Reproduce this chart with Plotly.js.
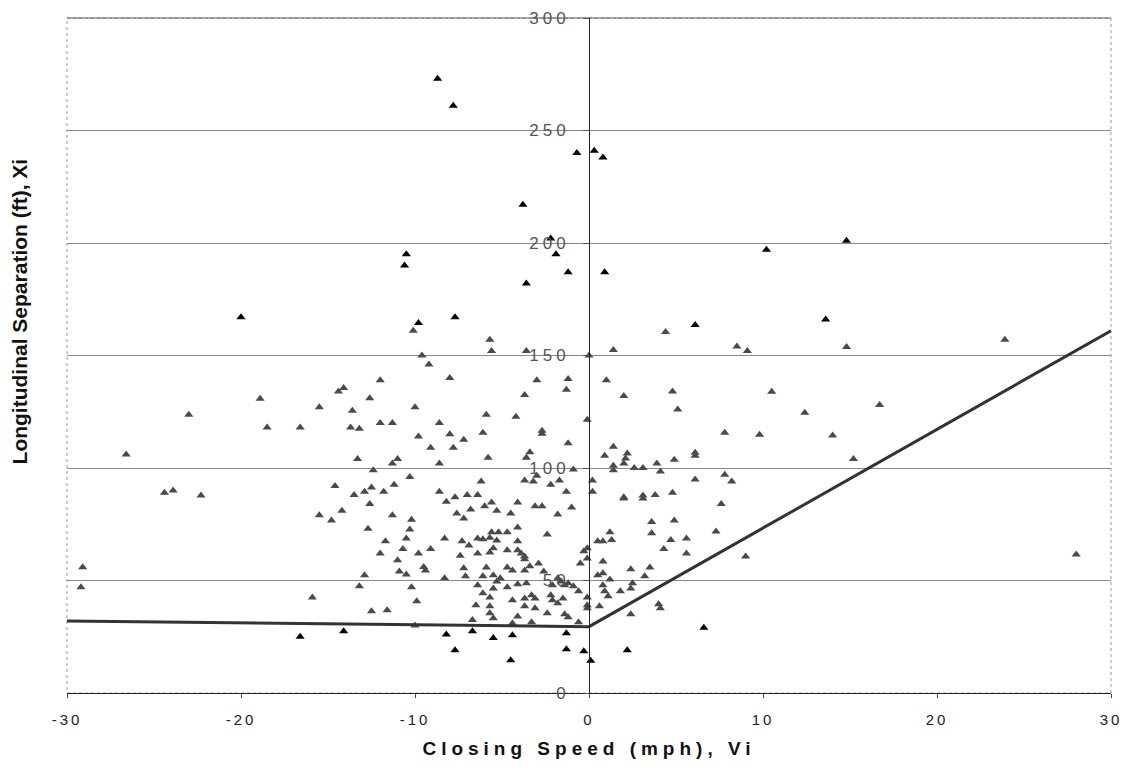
<!DOCTYPE html>
<html>
<head>
<meta charset="utf-8">
<script src="https://cdn.plot.ly/plotly-3.0.1.min.js"></script>
<style>
  html, body { margin: 0; padding: 0; background: #fff; }
  #chart { width: 1123px; height: 778px; }
  .xtick text { letter-spacing: 3px; }
  .y2tick text { letter-spacing: 4px; }
  .g-xtitle text { letter-spacing: 5px; }
</style>
</head>
<body>
<div id="chart"></div>
<script>
// Closing speed (mph) and longitudinal separation (ft) — grey observations
const grayX = [
  -18.9,-23.0,-18.5,-26.6,-24.4,-23.9,-22.3,-29.1,-29.2,
  -10.1,-9.6,-9.2,-12.0,-14.1,-14.4,-12.6,-15.5,-13.6,-10.0,-8.0,-16.6,-13.7,-13.2,-12.0,-11.3,-8.6,-9.8,-8.0,-9.1,-13.3,-11.0,-11.3,-8.6,-12.4,-10.3,-14.6,-13.5,-12.9,-12.5,-11.8,-11.2,-8.6,
  -5.7,-5.6,-3.6,0.0,-3.0,-1.2,-1.3,-3.7,-5.9,-4.2,-0.1,-7.2,-6.1,-2.7,-2.7,-1.2,-7.8,-5.8,-3.4,-3.6,-0.9,-6.2,-3.7,-3.2,-3.0,-2.2,-1.7,-1.3,0.2,0.2,-7.7,-7.0,-6.4,
  4.4,1.4,8.5,9.1,1.0,2.0,4.8,5.1,7.8,1.4,0.9,2.2,2.1,2.0,1.4,1.4,2.6,3.1,3.9,4.1,4.9,6.1,6.1,7.8,8.2,6.1,2.0,3.1,3.8,4.8,
  14.8,23.9,10.5,16.7,12.4,9.8,14.0,15.2,28.0,
  -12.6,-8.2,-15.5,-14.2,-14.8,-11.3,-10.2,-12.7,-10.3,-10.5,-8.3,-11.7,-10.7,-9.1,-12.0,-9.8,-11.0,-9.5,-9.4,-10.9,-10.5,-12.9,-8.3,-13.2,-10.2,-15.9,-9.9,-12.5,-11.6,-10.0,
  -7.6,-6.8,-7.2,-6.0,-5.6,-5.3,-4.5,-4.1,-3.1,-2.7,-1.8,-1.0,-4.1,-2.4,-5.6,-5.2,-4.7,-5.7,-6.4,-6.1,-7.3,-6.9,-5.3,-4.1,-5.5,-4.7,-4.1,-3.9,-3.7,-3.7,
  -7.4,-6.4,-5.7,-3.4,-2.9,-2.6,-7.2,-5.9,-4.7,-4.4,-7.1,-6.1,-5.5,-5.1,-1.8,-1.6,-1.4,-1.2,-0.9,-0.6,-2.1,-5.3,-6.4,-5.5,-4.7,-4.1,-3.6,-6.1,-5.7,-4.4,
  -3.7,-3.3,-3.1,-2.2,-2.1,-1.8,-1.5,-0.1,-0.1,-6.5,-5.7,-3.7,-3.1,-5.7,-4.1,-2.4,-1.4,-1.2,-6.7,-5.5,-0.6,-0.1,-3.3,-4.4,-0.3,-0.5,-0.1,-0.1,0.5,0.5,-3.7,
  2.0,3.1,7.6,3.6,4.9,1.2,1.3,0.8,3.6,4.7,5.6,7.3,4.3,5.6,9.0,0.8,2.4,3.5,0.8,1.2,3.2,0.8,2.5,2.4,1.8,0.9,1.1,4.0,4.1,0.6,2.4
];
const grayY = [
  130.8,123.7,118,106,89,90,87.8,55.9,47,
  161,150,146,139,135.6,134,131,127,125.4,127,140,118,118,117.5,120,120,120,114,115,109,104,104,102,102,99,96,92,88,89.5,91.3,89.5,92.6,89.5,
  157,152,152,150,139,139.6,134.8,132.5,123.7,122.8,121.5,112.6,115.7,116.6,115.2,111,109,104.6,107,104.6,99.3,94,94.4,94,96.6,92.6,94.4,89.5,94.4,89.5,87,88,88,
  160.5,152.5,154,152,139,132,134,126,115.7,109.5,105.5,106.4,104.2,102,101,99,100,100,102,98.4,103.7,106.8,105.5,97,94,94.9,87,87.8,88,89,
  153.8,157,133.9,128,124.6,114.8,114.4,104,61.6,
  84,85,79,81,76.7,79,77,73,72.7,68.7,68.7,67.4,64,64,62,62,59,56,54.5,54,52.7,52.3,51,47.4,47,42.5,40.8,36.3,36.8,30,
  79.8,81.6,77.6,83,84.7,81,79.8,84.7,83,83,79.3,82.4,73.6,70.5,71.4,71.4,71.4,69,68.7,68.3,67.4,65.6,67.8,67.4,64.3,63.4,63.4,62,60.7,59.4,
  61,62,62.5,56.3,57.6,54,55.4,55.8,55.8,54.5,51.9,51.9,52.3,51,51,49.6,47.9,48.8,47.4,45.2,47.9,49.6,47.9,46.5,47,48.3,48.8,44.3,42.5,41.2,
  42,43.4,42,43.4,41.2,39.9,42,42.5,39,39,38.6,38.6,37.7,35.5,34,35.5,35,33.7,32.4,33.2,31.5,37.7,31.5,31,63,57.6,64.3,59.8,67.4,52.3,54.5,
  86.4,86.4,84,76,76.7,71.4,68,67.4,71,68,68.7,71.8,64,62,60.7,58.5,55,55.8,53.2,50.5,51.9,47.9,48.8,46.5,45.2,45.2,43,39.5,37.7,38.6,35
];
// Black observations (high separations and those below the line)
const blackX = [-8.7,-7.8,-0.7,0.3,0.8,-3.8,-2.2,-10.5,-10.6,-1.9,-1.2,0.9,-3.6,10.2,14.8,-20.0,-7.7,13.6,-9.8,6.1,
  -16.6,-14.1,-8.2,-6.7,-5.5,-4.4,-1.3,-7.7,-1.3,-0.3,0.1,-4.5,2.2,6.6];
const blackY = [273,261,240,241,238,217,202,195,190,195,187,187,182,197,201,167,167,166,164.5,163.6,
  25,27.5,26,27.5,24.5,25.7,26.6,19,19.5,18.6,14.3,14.6,19,29];
// Boundary line
const lineX = [-30, 0, 30];
const lineY = [32, 29.5, 161];

const xTicks = [-30,-20,-10,0,10,20,30];
const yTicks = [0,50,100,150,200,250,300];

const fontMain = 'Liberation Sans, Arial, sans-serif';

const traces = [
  {x: grayX, y: grayY, type: 'scatter', mode: 'markers', xaxis: 'x', yaxis: 'y',
   marker: {symbol: 'triangle-up', size: 8, color: '#4a4a4a', line: {width: 0}}, showlegend: false, hoverinfo: 'x+y'},
  {x: blackX, y: blackY, type: 'scatter', mode: 'markers', xaxis: 'x', yaxis: 'y',
   marker: {symbol: 'triangle-up', size: 8, color: '#000000', line: {width: 0}}, showlegend: false, hoverinfo: 'x+y'},
  {x: lineX, y: lineY, type: 'scatter', mode: 'lines', xaxis: 'x', yaxis: 'y2',
   line: {color: '#333333', width: 3}, showlegend: false, hoverinfo: 'skip'},
  // empty trace so the title-only axis is created
  {x: [], y: [], type: 'scatter', mode: 'markers', xaxis: 'x', yaxis: 'y3', showlegend: false, hoverinfo: 'skip'}
];

const layout = {
  width: 1123, height: 778,
  margin: {l: 67, r: 12, t: 18, b: 85},
  paper_bgcolor: '#ffffff', plot_bgcolor: 'rgba(0,0,0,0)',
  showlegend: false,
  font: {family: fontMain, color: '#222'},
  xaxis: {
    range: [-30, 30], tickvals: xTicks, ticktext: xTicks.map(String),
    showgrid: false, zeroline: false,
    showline: true, linecolor: '#222', linewidth: 1,
    ticks: 'outside', ticklen: 4, tickcolor: '#444',
    ticklabelstandoff: 9,
    tickfont: {family: fontMain, size: 15, color: '#222'},
    title: {text: 'Closing Speed (mph), Vi', standoff: 14,
            font: {family: fontMain, size: 19, color: '#111', weight: 'bold'}}
  },
  yaxis: {
    range: [0, 300], tickvals: yTicks, showticklabels: false,
    showgrid: true, gridcolor: '#8a8a8a', gridwidth: 1,
    zeroline: false, showline: false, ticks: ''
  },
  yaxis2: {
    range: [0, 300], overlaying: 'y', anchor: 'free', position: 0.5, side: 'left',
    tickvals: yTicks, ticktext: yTicks.map(String),
    showgrid: false, zeroline: false,
    showline: true, linecolor: '#222', linewidth: 1,
    ticks: 'outside', ticklen: 6, tickcolor: '#555',
    ticklabelstandoff: 10,
    tickfont: {family: fontMain, size: 17, color: '#555'}
  },
  yaxis3: {
    domain: [0.13, 1], anchor: 'x', range: [0, 1],
    showticklabels: false, showgrid: false, zeroline: false, showline: false, ticks: '',
    title: {text: 'Longitudinal Separation (ft), Xi', standoff: 32,
            font: {family: fontMain, size: 21, color: '#111', weight: 'bold'}}
  },
  shapes: [
    {type: 'rect', xref: 'paper', yref: 'paper', x0: 0, y0: 0, x1: 1, y1: 1,
     line: {color: '#999', width: 1, dash: 'dot'}, layer: 'below'},
    {type: 'line', xref: 'paper', yref: 'paper', x0: 0, y0: 1, x1: 1, y1: 1,
     line: {color: '#555', width: 1}, layer: 'below'}
  ]
};

Plotly.newPlot('chart', traces, layout, {displayModeBar: false, staticPlot: true});
</script>
</body>
</html>
